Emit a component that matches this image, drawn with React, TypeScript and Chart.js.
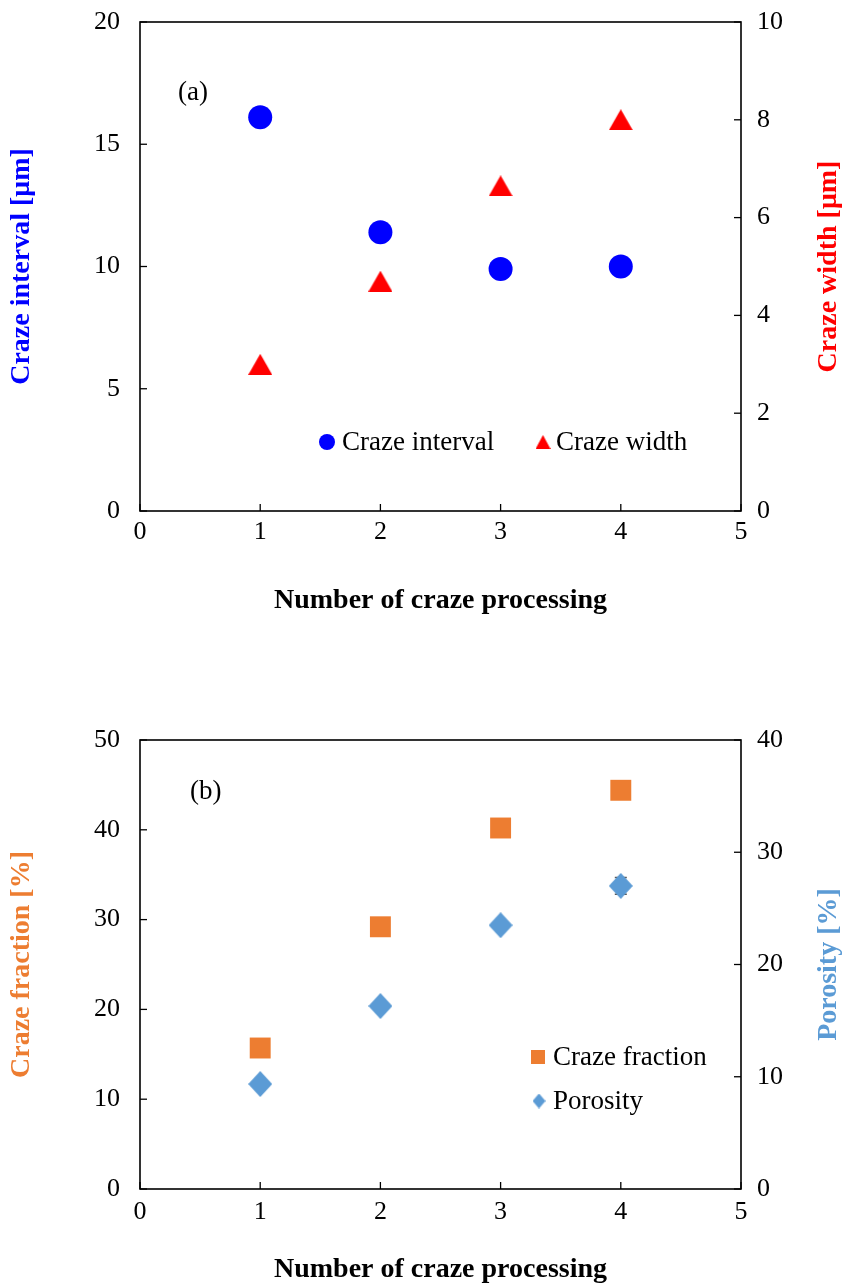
import React, { useEffect, useRef } from 'react';
import { Chart, registerables } from 'chart.js';

Chart.register(...registerables);

// ---- data ----
const processCounts = [1, 2, 3, 4];

const crazeInterval = [16.1, 11.4, 9.9, 10.0];
const crazeWidth = [3.0, 4.7, 6.65, 8.0];

const crazeFraction = [15.7, 29.2, 40.2, 44.4];
const porosity = [9.35, 16.3, 23.5, 27.0];
const porosityError = [0, 0, 0, 0.75];

const xTicks = [0, 1, 2, 3, 4, 5];

// ---- look ----
const SERIF = "'Liberation Serif', 'Times New Roman', serif";
const BLUE = '#0000FF';
const RED = '#FF0000';
const ORANGE = '#ED7D31';
const SKY = '#5B9BD5';
const PAGE_W = 846;
const PANEL_H = 643;

type Shape = 'triangle' | 'diamond';

function makeMarker(shape: Shape, w: number, h: number, color: string) {
  const c = document.createElement('canvas');
  c.width = w;
  c.height = h;
  const g = c.getContext('2d')!;
  g.fillStyle = color;
  g.beginPath();
  if (shape === 'triangle') {
    g.moveTo(w / 2, 0);
    g.lineTo(w, h);
    g.lineTo(0, h);
  } else {
    g.moveTo(w / 2, 0);
    g.lineTo(w, h / 2);
    g.lineTo(w / 2, h);
    g.lineTo(0, h / 2);
  }
  g.closePath();
  g.fill();
  return c;
}

const toPoints = (ys: number[]) => processCounts.map((x, i) => ({ x, y: ys[i] }));

// Plot frame with inward tick marks on all three axes
const framePlugin = {
  id: 'frame',
  beforeDatasetsDraw(chart: any) {
    const { ctx, chartArea, scales } = chart;
    const { left, right, top, bottom } = chartArea;
    ctx.save();
    ctx.strokeStyle = '#000';
    ctx.lineWidth = 1.6;
    ctx.strokeRect(left, top, right - left, bottom - top);
    ctx.lineWidth = 1.3;
    const seg = (x1: number, y1: number, x2: number, y2: number) => {
      ctx.beginPath();
      ctx.moveTo(x1, y1);
      ctx.lineTo(x2, y2);
      ctx.stroke();
    };
    scales.x.ticks.forEach((t: any) => {
      const px = scales.x.getPixelForValue(t.value);
      seg(px, bottom, px, bottom - 7);
    });
    scales.y.ticks.forEach((t: any) => {
      const py = scales.y.getPixelForValue(t.value);
      seg(left, py, left + 7, py);
    });
    scales.y1.ticks.forEach((t: any) => {
      const py = scales.y1.getPixelForValue(t.value);
      seg(right, py, right - 7, py);
    });
    ctx.restore();
  },
};

// Vertical error bars with caps, taken from dataset.errors
const errorBarPlugin = {
  id: 'errorBars',
  beforeDatasetsDraw(chart: any) {
    const { ctx } = chart;
    chart.data.datasets.forEach((ds: any) => {
      if (!ds.errors) return;
      const xs = chart.scales.x;
      const ys = chart.scales[ds.yAxisID];
      ctx.save();
      ctx.strokeStyle = '#595959';
      ctx.lineWidth = 1.5;
      ds.data.forEach((p: any, i: number) => {
        const e = ds.errors[i];
        if (!e) return;
        const px = xs.getPixelForValue(p.x);
        const hi = ys.getPixelForValue(p.y + e);
        const lo = ys.getPixelForValue(p.y - e);
        ctx.beginPath();
        ctx.moveTo(px, hi);
        ctx.lineTo(px, lo);
        ctx.moveTo(px - 6, hi);
        ctx.lineTo(px + 6, hi);
        ctx.moveTo(px - 6, lo);
        ctx.lineTo(px + 6, lo);
        ctx.stroke();
      });
      ctx.restore();
    });
  },
};

// Right-hand axis title (reads bottom to top), panel tag and in-plot legend
const notesPlugin = {
  id: 'notes',
  afterDraw(chart: any, _args: any, opts: any) {
    const { ctx, chartArea } = chart;
    const { left, top, bottom } = chartArea;
    ctx.save();

    ctx.translate(chart.width - opts.rightTitleInset, (top + bottom) / 2);
    ctx.rotate(-Math.PI / 2);
    ctx.font = `bold 28px ${SERIF}`;
    ctx.fillStyle = opts.rightTitleColor;
    ctx.textAlign = 'center';
    ctx.textBaseline = 'middle';
    ctx.fillText(opts.rightTitle, 0, 0);
    ctx.setTransform(1, 0, 0, 1, 0, 0);

    ctx.font = `27px ${SERIF}`;
    ctx.fillStyle = '#000';
    ctx.textAlign = 'left';
    ctx.textBaseline = 'middle';
    ctx.fillText(opts.tag, left + opts.tagX, top + opts.tagY);

    opts.legend.forEach((item: any) => {
      const mx = left + item.x;
      const my = top + item.y;
      ctx.fillStyle = item.color;
      if (item.kind === 'circle') {
        ctx.beginPath();
        ctx.arc(mx, my, item.size, 0, Math.PI * 2);
        ctx.fill();
      } else if (item.kind === 'square') {
        ctx.fillRect(mx - item.size / 2, my - item.size / 2, item.size, item.size);
      } else {
        const img = item.image;
        ctx.drawImage(img, mx - img.width / 2, my - img.height / 2);
      }
      ctx.fillStyle = '#000';
      ctx.font = `27px ${SERIF}`;
      ctx.fillText(item.text, left + item.textX, my + 1);
    });
    ctx.restore();
  },
};

interface PanelSpec {
  areaTop: number;
  areaBottom: number;
  xTickPad: number;
  xTitlePad: number;
  yMax: number;
  yStep: number;
  y1Max: number;
  y1Step: number;
  leftTitle: string;
  leftColor: string;
  datasets: any[];
  notes: any;
}

function buildConfig(spec: PanelSpec): any {
  const tickFont = { family: SERIF, size: 26 };
  const titleFont = { family: SERIF, size: 28, weight: 'bold' as const };
  // tick marks are not drawn by the scales; the tick length only spaces the labels
  const sideGrid = (gap: number) => ({ display: false, drawTicks: true, tickLength: gap });
  return {
    type: 'scatter',
    data: { datasets: spec.datasets },
    options: {
      responsive: false,
      animation: false,
      devicePixelRatio: 1,
      layout: { padding: { top: spec.areaTop, left: 0, right: 0, bottom: 0 } },
      plugins: {
        legend: { display: false },
        tooltip: { enabled: false },
        notes: spec.notes,
      },
      scales: {
        x: {
          type: 'linear',
          min: 0,
          max: 5,
          afterBuildTicks: (s: any) => {
            s.ticks = xTicks.map((v) => ({ value: v }));
          },
          ticks: { font: tickFont, color: '#000', padding: spec.xTickPad },
          grid: { display: false, drawTicks: false },
          border: { display: false },
          title: {
            display: true,
            text: 'Number of craze processing',
            color: '#000',
            font: titleFont,
            padding: { top: 0, bottom: spec.xTitlePad },
          },
          afterFit: (s: any) => {
            s.height = PANEL_H - spec.areaBottom;
          },
        },
        y: {
          type: 'linear',
          position: 'left',
          min: 0,
          max: spec.yMax,
          ticks: { stepSize: spec.yStep, font: tickFont, color: '#000', padding: 0 },
          grid: sideGrid(20),
          border: { display: false },
          title: {
            display: true,
            text: spec.leftTitle,
            color: spec.leftColor,
            font: titleFont,
            padding: { top: 5, bottom: 0 },
          },
          afterFit: (s: any) => {
            s.width = 140;
          },
        },
        y1: {
          type: 'linear',
          position: 'right',
          min: 0,
          max: spec.y1Max,
          ticks: { stepSize: spec.y1Step, font: tickFont, color: '#000', padding: 0 },
          grid: sideGrid(16),
          border: { display: false },
          afterFit: (s: any) => {
            s.width = PAGE_W - 741;
          },
        },
      },
    },
    plugins: [framePlugin, errorBarPlugin, notesPlugin],
  };
}

function specA(): PanelSpec {
  const tri = makeMarker('triangle', 24, 21, RED);
  const triSmall = makeMarker('triangle', 15, 14, RED);
  return {
    areaTop: 22,
    areaBottom: 511,
    xTickPad: 6,
    xTitlePad: 25,
    yMax: 20,
    yStep: 5,
    y1Max: 10,
    y1Step: 2,
    leftTitle: 'Craze interval [μm]',
    leftColor: BLUE,
    datasets: [
      {
        label: 'Craze interval',
        data: toPoints(crazeInterval),
        yAxisID: 'y',
        pointStyle: 'circle',
        pointRadius: 12,
        pointBorderWidth: 0,
        backgroundColor: BLUE,
        borderColor: BLUE,
      },
      {
        label: 'Craze width',
        data: toPoints(crazeWidth),
        yAxisID: 'y1',
        pointStyle: tri,
        pointRadius: 12,
        pointBorderWidth: 0,
        backgroundColor: RED,
        borderColor: RED,
      },
    ],
    notes: {
      rightTitle: 'Craze width [μm]',
      rightTitleColor: RED,
      rightTitleInset: 17,
      tag: '(a)',
      tagX: 38,
      tagY: 71,
      legend: [
        { kind: 'circle', size: 8, color: BLUE, x: 187, y: 420, textX: 202, text: 'Craze interval' },
        { kind: 'image', image: triSmall, color: RED, x: 403, y: 420, textX: 416, text: 'Craze width' },
      ],
    },
  };
}

function specB(): PanelSpec {
  const dia = makeMarker('diamond', 24, 26, SKY);
  const diaSmall = makeMarker('diamond', 13, 15, SKY);
  return {
    areaTop: 97,
    areaBottom: 546,
    xTickPad: 8,
    xTitlePad: -1,
    yMax: 50,
    yStep: 10,
    y1Max: 40,
    y1Step: 10,
    leftTitle: 'Craze fraction [%]',
    leftColor: ORANGE,
    datasets: [
      {
        label: 'Craze fraction',
        data: toPoints(crazeFraction),
        yAxisID: 'y',
        pointStyle: 'rect',
        pointRadius: 14.8,
        pointBorderWidth: 0,
        backgroundColor: ORANGE,
        borderColor: ORANGE,
      },
      {
        label: 'Porosity',
        data: toPoints(porosity),
        errors: porosityError,
        yAxisID: 'y1',
        pointStyle: dia,
        pointRadius: 12,
        pointBorderWidth: 0,
        backgroundColor: SKY,
        borderColor: SKY,
      },
    ],
    notes: {
      rightTitle: 'Porosity [%]',
      rightTitleColor: SKY,
      rightTitleInset: 17,
      tag: '(b)',
      tagX: 50,
      tagY: 52,
      legend: [
        { kind: 'square', size: 14, color: ORANGE, x: 398, y: 317, textX: 413, text: 'Craze fraction' },
        { kind: 'image', image: diaSmall, color: SKY, x: 399, y: 361, textX: 413, text: 'Porosity' },
      ],
    },
  };
}

function ChartPanel({ makeSpec }: { makeSpec: () => PanelSpec }) {
  const ref = useRef<HTMLCanvasElement>(null);
  useEffect(() => {
    const chart = new Chart(ref.current!, buildConfig(makeSpec()));
    return () => chart.destroy();
  }, [makeSpec]);
  return (
    <canvas
      ref={ref}
      width={PAGE_W}
      height={PANEL_H}
      style={{ display: 'block', width: PAGE_W, height: PANEL_H }}
    />
  );
}

export default function App() {
  return (
    <div
      style={{
        position: 'absolute',
        left: 0,
        top: 0,
        width: PAGE_W,
        height: PANEL_H * 2,
        background: '#fff',
      }}
    >
      <ChartPanel makeSpec={specA} />
      <ChartPanel makeSpec={specB} />
    </div>
  );
}
